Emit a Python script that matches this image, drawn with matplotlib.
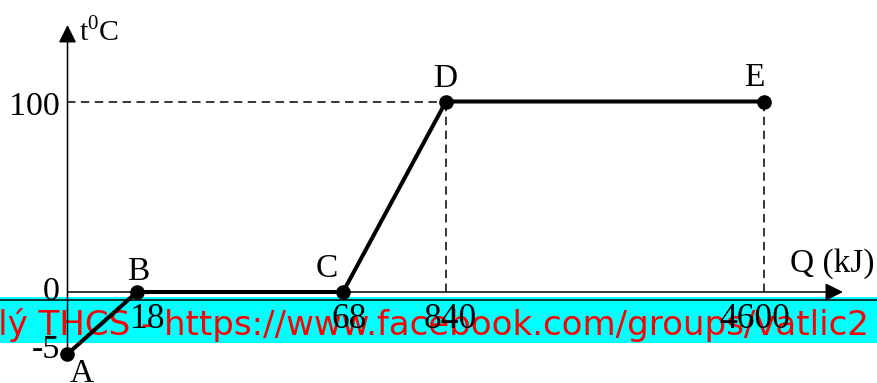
import numpy as np
import matplotlib.pyplot as plt
from matplotlib.patches import Rectangle

# heating curve: heat supplied Q (kJ) vs temperature t (deg C)
point_names = ["A", "B", "C", "D", "E"]
heat_kj = [0, 18, 68, 840, 4600]
temp_c = [-5, 0, 0, 100, 100]
tick_labels = ["18", "68", "840", "4600"]
tick_values = [18, 68, 840, 4600]
ytick_values = [100, 0, -5]
ytick_labels = ["100", "0", "-5"]
banner_text = "Vật lý THCS - https://www.facebook.com/groups/vatlic2"

W, H = 878, 383

# schematic (not to scale) axes: piecewise linear mapping value -> pixel
X_KNOTS_PX = [67.5, 137, 343, 446, 764]
Y_KNOTS_PX = [H - 354, H - 292, H - 101.5]


def piecewise(src, dst):
    s = np.r_[src[0] - 1e4, src, src[-1] + 1e4]
    d = np.r_[dst[0] - 1e4, dst, dst[-1] + 1e4]
    fwd = lambda v: np.interp(v, s, d)
    inv = lambda v: np.interp(v, d, s)
    return fwd, inv


fx, ix = piecewise(np.array(heat_kj, float), np.array(X_KNOTS_PX))
fy, iy = piecewise(np.array([-5, 0, 100], float), np.array(Y_KNOTS_PX))

SERIF = "Liberation Serif"
plt.rcParams["mathtext.fontset"] = "custom"
plt.rcParams["mathtext.rm"] = SERIF

fig = plt.figure(figsize=(W / 100, H / 100), dpi=100)
ax = fig.add_axes([0, 0, 1, 1])
ax.set_xscale("function", functions=(fx, ix))
ax.set_yscale("function", functions=(fy, iy))
ax.set_xlim(ix(0), ix(W))
ax.set_ylim(iy(0), iy(H))
ax.axis("off")


def frac(x, y_top):
    return x / W, 1 - y_top / H


# cyan banner behind the chart
ax.add_patch(Rectangle(frac(0, 343), 1, 46 / H, transform=ax.transAxes,
                       facecolor="#00ffff", edgecolor="none", zorder=0))
ax.plot([0, 1], [1 - 299.5 / H] * 2, transform=ax.transAxes,
        color="#111111", lw=1.2, zorder=0.5)
ax.text(869 / W, 1 - 335 / H, banner_text, transform=ax.transAxes,
        ha="right", va="baseline", color="red", fontsize=24.5,
        family="DejaVu Sans", zorder=1)

# axes with arrow heads
arrow = dict(arrowstyle="-|>,head_length=0.4,head_width=0.2",
             mutation_scale=27, color="black", lw=1.1, shrinkA=0, shrinkB=0)
ax.annotate("", xy=(843 / W, 0), xycoords=("axes fraction", "data"),
            xytext=(0, 0), textcoords="data", arrowprops=arrow, zorder=3)
ax.annotate("", xy=(0, 1 - 25 / H), xycoords=("data", "axes fraction"),
            xytext=(0, -5), textcoords="data", arrowprops=arrow, zorder=3)

# dashed guides to D and E
guide = dict(color="black", lw=1.1, ls=(0, (5.5, 3.6)), zorder=2)
ax.plot([0, heat_kj[3]], [temp_c[3], temp_c[3]], **guide)
ax.plot([heat_kj[3], heat_kj[3]], [0, temp_c[3]], **guide)
ax.plot([heat_kj[4], heat_kj[4]], [0, temp_c[4]], **guide)

# the curve
ax.plot(heat_kj, temp_c, color="black", lw=2.9, marker="o", ms=9.5,
        solid_capstyle="round", zorder=5)

# point labels
name_offsets = [(14, -28), (1, 12), (-16, 15), (-1, 14.5), (-10, 16)]
for name, q, t, off in zip(point_names, heat_kj, temp_c, name_offsets):
    ax.annotate(name, (q, t), xytext=off, textcoords="offset pixels",
                ha="center", va="baseline", fontsize=24, family=SERIF, zorder=6)

# x tick labels
xtick_dx = [11, 6, 4, -9]
for lab, q, dx in zip(tick_labels, tick_values, xtick_dx):
    ax.annotate(lab, (q, 0), xytext=(dx, -36), textcoords="offset pixels",
                ha="center", va="baseline", fontsize=25.5, family=SERIF, zorder=6)

# y tick labels
ytick_dy = [-13.5, -8, -4]
for lab, t, dy in zip(ytick_labels, ytick_values, ytick_dy):
    ax.annotate(lab, (0, t), xytext=(-7.5, dy), textcoords="offset pixels",
                ha="right", va="baseline", fontsize=24.5, family=SERIF, zorder=6)

# axis titles
ax.text(*frac(79, 41.5), r"t$^{\mathrm{0}}$C", transform=ax.transAxes,
        ha="left", va="baseline", fontsize=21.5, family=SERIF)
ax.text(*frac(790, 272), "Q (kJ)", transform=ax.transAxes,
        ha="left", va="baseline", fontsize=24, family=SERIF)

fig.savefig("out.png", dpi=100)
